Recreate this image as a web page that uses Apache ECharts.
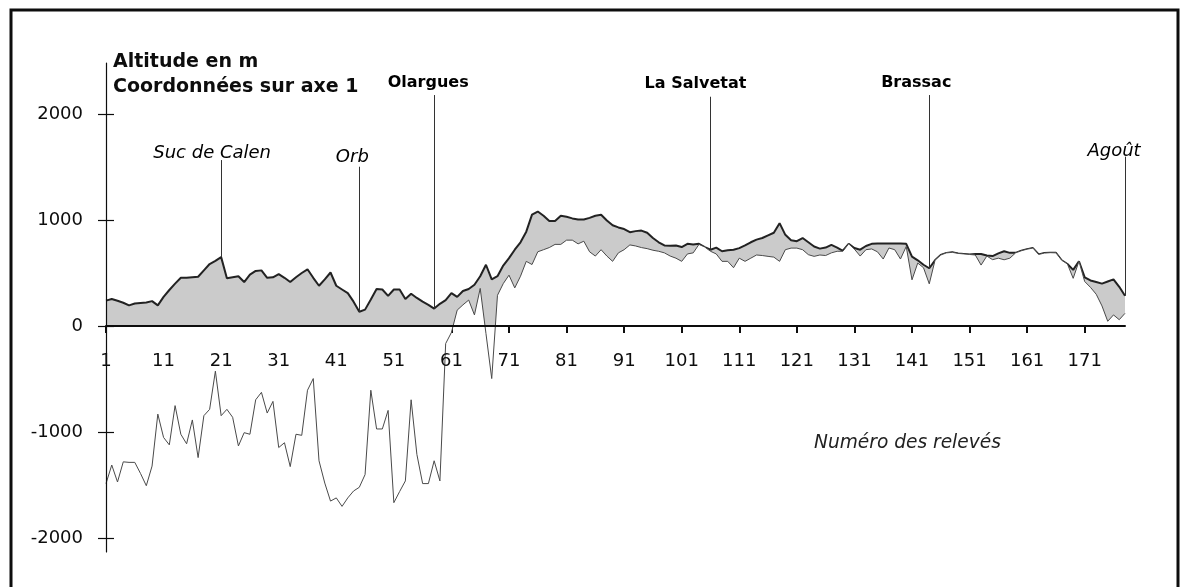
<!DOCTYPE html>
<html><head><meta charset="utf-8">
<script src="https://cdn.jsdelivr.net/npm/echarts@6/dist/echarts.min.js"></script>
<style>html,body{margin:0;padding:0;background:#fff}#c{width:1188px;height:587px}</style>
</head><body><div id="c"></div>
<script>
// ---- data ----
const categories = [];
for (let i = 1; i <= 178; i++) categories.push(String(i));

const altitude = [
 240,255,238,220,195,212,218,222,235,195,
 275,340,400,455,455,460,465,525,585,615,
 650,450,460,470,415,485,520,525,455,460,
 490,455,415,460,500,535,455,380,440,505,
 380,345,310,230,135,155,250,350,345,285,
 345,345,255,305,265,230,200,165,210,245,
 310,275,330,350,390,470,578,440,470,570,
 640,720,790,890,1050,1080,1040,990,990,1040,
 1030,1015,1005,1005,1020,1040,1050,995,950,930,
 915,885,895,900,880,830,790,760,758,760,
 745,775,770,775,745,720,740,705,715,720,
 735,760,790,815,830,855,880,970,860,810,
 800,830,790,750,730,740,765,740,710,775,
 736,720,755,775,778,778,778,778,778,775,
 655,620,578,545,620,670,690,695,685,680,
 675,680,680,665,660,685,705,690,690,710,
 725,735,675,688,692,690,620,585,530,610,
 460,430,415,400,420,440,370,285
];

const coordAxe1 = [
 -1485,-1310,-1470,-1280,-1285,-1285,-1390,-1505,-1320,-830,
 -1050,-1120,-750,-1020,-1110,-885,-1240,-845,-785,-425,
 -845,-785,-860,-1130,-1005,-1020,-695,-625,-820,-710,
 -1145,-1100,-1325,-1020,-1030,-605,-495,-1270,-1480,-1650,
 -1620,-1700,-1620,-1555,-1520,-1400,-605,-970,-970,-795,
 -1665,-1560,-1460,-695,-1210,-1485,-1485,-1270,-1460,-165,
 -60,150,200,245,105,355,-70,-495,290,400,
 480,360,470,610,580,700,720,740,770,770,
 810,810,775,800,700,660,720,660,610,690,
 720,765,755,740,730,715,705,690,660,640,
 610,680,690,770,745,705,680,610,610,550,
 640,610,640,670,665,657,650,610,720,735,
 735,720,673,657,670,665,690,705,705,775,
 725,660,720,727,700,632,736,720,632,750,
 436,594,550,398,620,670,690,695,685,680,
 675,670,575,660,626,640,625,640,690,710,
 725,735,675,688,692,690,620,585,450,610,
 420,365,300,190,45,105,60,120
];

const yTickValues = [-2000, -1000, 0, 1000, 2000];

const annotNames = ['Suc de Calen', 'Orb', 'Olargues', 'La Salvetat', 'Brassac', 'Agoût'];
const annotCats  = ['21', '45', '58', '106', '144', '178'];

// ---- layout / style (not data) ----
const Y_MIN = -2130, Y_MAX = 2480;
const G = {left: 106, right: 63, top: 63, bottom: 35};
const plotH = 587 - G.top - G.bottom;
const zeroPx = G.top + plotH * Y_MAX / (Y_MAX - Y_MIN);

const annotStyle = [
  {top: 1565, italic: true,  bold: false, size: 18, dx: -9,  dy: -7},
  {top: 1502, italic: true,  bold: false, size: 18, dx: -7,  dy: -9},
  {top: 2178, italic: false, bold: true,  size: 16, dx: -6,  dy: -12},
  {top: 2162, italic: false, bold: true,  size: 16, dx: -15, dy: -13},
  {top: 2178, italic: false, bold: true,  size: 16, dx: -13, dy: -12},
  {top: 1597, italic: true,  bold: false, size: 18, dx: -11, dy: -5}
];

const FONT = 'DejaVu Sans';
const INK = '#0d0d0d';

const annotData = annotNames.map((n, i) => ({
  name: n,
  value: [annotCats[i], annotStyle[i].top],
  label: {
    show: true, position: 'inside', align: 'center', verticalAlign: 'middle',
    formatter: n, offset: [annotStyle[i].dx, annotStyle[i].dy],
    fontFamily: FONT, fontSize: annotStyle[i].size,
    fontStyle: annotStyle[i].italic ? 'italic' : 'normal',
    fontWeight: annotStyle[i].bold ? 'bold' : 'normal',
    color: '#000', opacity: 1, textBorderWidth: 0, textBorderColor: 'transparent', textShadowBlur: 0
  }
}));

const annotLines = annotNames.map((n, i) => {
  const idx = categories.indexOf(annotCats[i]);
  return [{coord: [annotCats[i], annotStyle[i].top]}, {coord: [annotCats[i], altitude[idx]]}];
});

const chart = echarts.init(document.getElementById('c'), null, {renderer: 'canvas'});
chart.setOption({
  animation: false,
  backgroundColor: '#ffffff',
  grid: [
    {left: G.left, right: G.right, top: G.top, bottom: G.bottom, containLabel: false},
    {left: G.left, right: G.right, top: G.top, bottom: G.bottom, containLabel: false},
    {left: G.left, right: G.right, top: G.top, height: zeroPx - G.top, containLabel: false},
    {left: G.left, right: G.right, top: G.top, height: zeroPx - G.top, containLabel: false}
  ],
  xAxis: [
    {gridIndex: 0, type: 'category', data: categories, boundaryGap: false, show: false},
    {gridIndex: 1, type: 'category', data: categories, boundaryGap: false, show: false},
    {
      gridIndex: 2, type: 'category', data: categories, boundaryGap: false, z: 10, position: 'bottom',
      axisLine: {show: true, onZero: false, lineStyle: {color: INK, width: 2}},
      axisTick: {show: false},
      axisLabel: {interval: 9, fontFamily: FONT, fontSize: 18, color: INK, margin: 26},
      splitLine: {show: false}
    },
    {
      gridIndex: 3, type: 'category', data: categories, boundaryGap: false, z: 0, position: 'bottom',
      axisLine: {show: false, onZero: false},
      axisTick: {show: true, interval: 9, length: 7, lineStyle: {color: INK, width: 2}},
      axisLabel: {show: false},
      splitLine: {show: false}
    }
  ],
  yAxis: [
    {
      gridIndex: 0, type: 'value', min: Y_MIN, max: Y_MAX, z: 10, position: 'left',
      axisLine: {show: true, onZero: false, lineStyle: {color: INK, width: 1.2}},
      axisTick: {show: true, length: 8, customValues: yTickValues, lineStyle: {color: INK, width: 1.2}},
      axisLabel: {customValues: yTickValues, formatter: v => String(v), fontFamily: FONT, fontSize: 18, color: INK, margin: 23},
      splitLine: {show: false}
    },
    {
      gridIndex: 1, type: 'value', min: Y_MIN, max: Y_MAX, z: 10, position: 'left',
      axisLine: {show: false, onZero: false},
      axisTick: {show: true, inside: true, length: 8, customValues: yTickValues, lineStyle: {color: INK, width: 1.2}},
      axisLabel: {show: false},
      splitLine: {show: false}
    },
    {gridIndex: 2, type: 'value', min: 0, max: 1, show: false},
    {gridIndex: 3, type: 'value', min: 0, max: 1, show: false}
  ],
  series: [
    {
      name: 'Altitude en m', type: 'line', data: altitude, symbol: 'none', z: 2,
      xAxisIndex: 0, yAxisIndex: 0,
      lineStyle: {color: '#222', width: 2},
      areaStyle: {color: '#cbcbcb', opacity: 1}
    },
    {
      name: 'Coordonnées sur axe 1', type: 'line', data: coordAxe1, symbol: 'none', z: 3,
      xAxisIndex: 0, yAxisIndex: 0,
      lineStyle: {color: '#4a4a4a', width: 1},
      areaStyle: {color: '#ffffff', opacity: 1}
    },
    {
      name: 'annotations', type: 'scatter', data: annotData, symbolSize: 0, z: 6, silent: true,
      xAxisIndex: 0, yAxisIndex: 0,
      itemStyle: {opacity: 1},
      markLine: {
        silent: true, symbol: ['none', 'none'], animation: false,
        label: {show: false},
        lineStyle: {color: '#333', width: 1, type: 'solid'},
        data: annotLines
      }
    }
  ],
  graphic: [
    {type: 'rect', shape: {x: 11, y: 10, width: 1167, height: 620}, style: {fill: 'none', stroke: INK, lineWidth: 3}, z: 100},
    {type: 'text', x: 113, y: 62, style: {text: 'Altitude en m', font: 'bold 19px "DejaVu Sans"', fill: INK, textVerticalAlign: 'middle', verticalAlign: 'middle'}, z: 100},
    {type: 'text', x: 113, y: 87, style: {text: 'Coordonnées sur axe 1', font: 'bold 19px "DejaVu Sans"', fill: INK, textVerticalAlign: 'middle', verticalAlign: 'middle'}, z: 100},
    {type: 'text', x: 814, y: 443, style: {text: 'Numéro des relevés', font: 'italic 18.6px "DejaVu Sans"', fill: '#222', textVerticalAlign: 'middle', verticalAlign: 'middle'}, z: 100}
  ]
});
</script>
</body></html>
